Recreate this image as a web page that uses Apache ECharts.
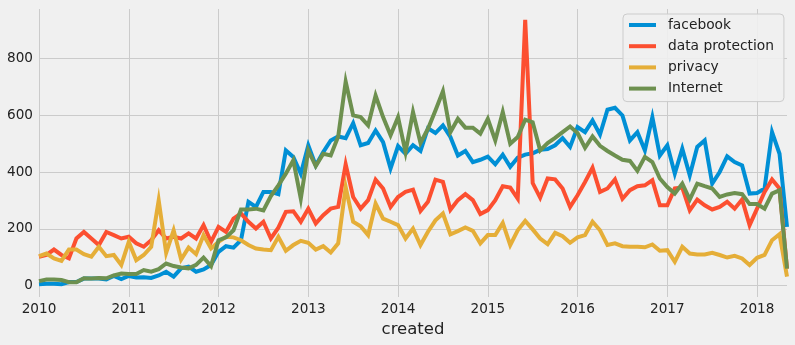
<!DOCTYPE html>
<html>
<head>
<meta charset="utf-8">
<script src="https://cdn.jsdelivr.net/npm/echarts@6/dist/echarts.min.js"></script>
<style>
html,body{margin:0;padding:0;background:#f0f0f0;}
#chart{width:795px;height:345px;}
</style>
</head>
<body>
<div id="chart"></div>
<script>
const months = [
'2010-01','2010-02','2010-03','2010-04','2010-05','2010-06','2010-07','2010-08','2010-09','2010-10','2010-11','2010-12',
'2011-01','2011-02','2011-03','2011-04','2011-05','2011-06','2011-07','2011-08','2011-09','2011-10','2011-11','2011-12',
'2012-01','2012-02','2012-03','2012-04','2012-05','2012-06','2012-07','2012-08','2012-09','2012-10','2012-11','2012-12',
'2013-01','2013-02','2013-03','2013-04','2013-05','2013-06','2013-07','2013-08','2013-09','2013-10','2013-11','2013-12',
'2014-01','2014-02','2014-03','2014-04','2014-05','2014-06','2014-07','2014-08','2014-09','2014-10','2014-11','2014-12',
'2015-01','2015-02','2015-03','2015-04','2015-05','2015-06','2015-07','2015-08','2015-09','2015-10','2015-11','2015-12',
'2016-01','2016-02','2016-03','2016-04','2016-05','2016-06','2016-07','2016-08','2016-09','2016-10','2016-11','2016-12',
'2017-01','2017-02','2017-03','2017-04','2017-05','2017-06','2017-07','2017-08','2017-09','2017-10','2017-11','2017-12',
'2018-01','2018-02','2018-03','2018-04','2018-05'
];

const facebook = [
5,7,7,5,13,13,25,25,25,22,34,23,
34,29,30,27,36,49,32,61,67,49,57,73,
119,139,134,160,295,277,330,330,322,476,453,394,
494,423,470,511,525,519,572,494,502,546,505,412,
491,464,494,474,554,537,564,523,458,474,435,443,
454,427,461,418,450,461,466,478,481,494,519,488,
558,540,581,532,619,626,599,511,540,476,593,458,
494,394,482,388,488,511,359,400,455,435,423,324,
326,342,540,464,207
];

const dataProtection = [
102,108,127,108,96,166,189,166,143,189,178,166,
172,149,137,160,195,166,172,166,184,166,213,154,
207,189,236,254,225,201,225,166,204,260,262,225,
271,219,248,271,277,427,312,271,301,373,342,277,
312,330,338,263,295,373,365,267,301,322,301,252,
266,301,350,345,306,935,361,310,377,374,342,277,
318,365,415,330,342,374,306,336,350,353,371,283,
283,342,345,265,303,283,268,277,295,271,303,213,
271,330,374,342,60
];

const privacy = [
104,113,96,87,127,127,111,102,137,104,108,73,
154,90,108,137,300,116,195,92,134,111,178,131,
154,172,170,160,143,131,127,125,172,123,143,158,
151,127,139,117,149,347,225,209,178,289,236,225,
213,166,201,143,190,230,254,181,192,205,193,149,
178,178,221,143,195,228,198,166,146,186,174,151,
170,178,225,195,143,149,139,137,137,135,145,123,
125,84,137,113,110,110,116,108,99,105,96,73,
98,108,160,181,32
];

const internet = [
16,22,22,20,12,12,26,25,27,26,36,43,
41,41,55,49,58,78,69,64,61,73,99,69,
160,170,195,268,268,271,265,315,353,394,441,306,
476,421,464,458,525,718,599,593,564,669,593,529,
593,470,611,502,552,616,684,540,587,556,556,535,
587,511,611,499,523,584,575,476,502,520,540,560,
537,485,525,492,474,458,443,439,404,453,435,377,
347,324,359,303,359,350,342,312,321,326,322,287,
287,271,324,336,60
];

const seriesNames = ['facebook','data protection','privacy','Internet'];
const seriesColors = ['#008fd5','#fc4f30','#e5ae38','#6d904f'];
const yTicks = [0,200,400,600,800];
const xLabel = 'created';

const chart = echarts.init(document.getElementById('chart'), null, {renderer:'canvas'});
const isJan = (idx) => idx % 12 === 0;
const allData = [facebook, dataProtection, privacy, internet];

chart.setOption({
  backgroundColor:'#f0f0f0',
  animation:false,
  textStyle:{fontFamily:'DejaVu Sans'},
  grid:{left:39, right:8, top:9, bottom:48, containLabel:false},
  legend:{
    orient:'vertical',
    left:623, top:14,
    padding:[3,10,5,6],
    itemGap:5.2,
    itemWidth:27, itemHeight:4,
    icon:'rect',
    backgroundColor:'rgba(240,240,240,0.9)',
    borderColor:'#cccccc', borderWidth:1, borderRadius:4,
    textStyle:{fontSize:13.8, color:'#222', lineHeight:16, fontFamily:'DejaVu Sans', padding:[0,0,0,7]},
    data:seriesNames
  },
  xAxis:{
    type:'category',
    data:months,
    boundaryGap:false,
    name:xLabel,
    nameLocation:'middle',
    nameGap:21,
    nameTextStyle:{fontSize:16.5, color:'#222', fontFamily:'DejaVu Sans', verticalAlign:'top'},
    axisLine:{show:false},
    axisTick:{show:false},
    axisLabel:{interval:(i)=>isJan(i), formatter:(v)=>v.slice(0,4), fontSize:13.6, color:'#222', margin:5},
    splitLine:{show:true, interval:(i)=>isJan(i), lineStyle:{color:'#cbcbcb', width:1}}
  },
  yAxis:{
    type:'value',
    min:-39.8, max:973.4,
    axisLine:{show:false},
    axisTick:{show:false, customValues:yTicks},
    axisLabel:{customValues:yTicks, fontSize:13.6, color:'#222', margin:6},
    splitLine:{show:true, lineStyle:{color:'#cbcbcb', width:1}}
  },
  series: allData.map((d,k)=>({
    name:seriesNames[k],
    type:'line',
    data:d,
    showSymbol:false,
    symbol:'none',
    lineStyle:{width:4, color:seriesColors[k], cap:'butt', join:'miter'},
    itemStyle:{color:seriesColors[k]},
    emphasis:{disabled:true}
  }))
});
</script>
</body>
</html>
